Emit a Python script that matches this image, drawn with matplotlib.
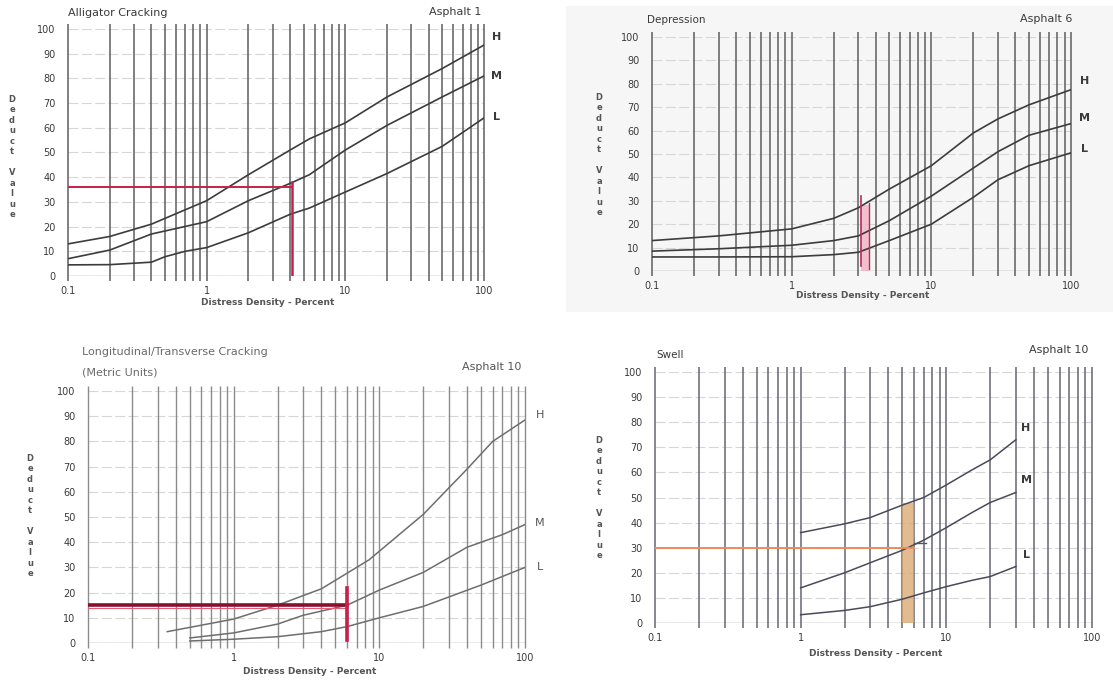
import matplotlib
matplotlib.use("Agg")
import matplotlib.pyplot as plt
from matplotlib.ticker import NullLocator
from matplotlib.patches import Rectangle

W, H = 1113, 684

# ---- Alligator Cracking (Asphalt 1)
alligator_x = [0.1, 0.2, 0.4, 1, 2, 4, 5.5, 10, 20, 50, 100]
alligator_h = [13, 16, 21, 30.5, 41, 51, 55.5, 62, 72.5, 84, 93.5]
alligator_m = [7, 10.5, 17, 22, 30.5, 37.5, 41, 51, 61, 72.5, 81]
alligator_l_x = [0.1, 0.2, 0.4, 0.5, 0.7, 1, 2, 4, 5.5, 10, 20, 50, 100]
alligator_l = [4.5, 4.6, 5.6, 7.8, 10, 11.5, 17.5, 25, 27.5, 34, 41.5, 52.5, 64]
alligator_ref = (4.1, 36, 38)   # density, deduct value, top of vertical

# ---- Depression (Asphalt 6)
depression_x = [0.1, 0.3, 1, 2, 3, 5, 10, 20, 30, 50, 100]
depression_h = [13, 15, 18, 22.5, 27, 35, 45, 59, 65, 71, 77.5]
depression_m = [8.5, 9.5, 11, 13, 15, 21.5, 32, 44, 51, 58, 63]
depression_l = [6, 6, 6.1, 7, 8, 13, 20, 31.5, 39, 45, 50.5]
depression_ref = (3.15, 3.6, 32)  # band from, band to, top

# ---- Longitudinal/Transverse Cracking (Asphalt 10)
long_h_x = [0.35, 1, 2, 4, 8.5, 20, 40, 60, 100]
long_h = [4.5, 9.5, 15, 21.5, 33, 51, 69, 80, 88.5]
long_m_x = [0.5, 1, 2, 3, 6, 10, 20, 40, 70, 100]
long_m = [2, 4, 7.5, 11, 15, 21, 28, 38, 43, 47]
long_l_x = [0.5, 1, 2, 4, 6, 10, 20, 50, 100]
long_l = [0.8, 1.5, 2.5, 4.5, 6.5, 10, 14.5, 23, 30]
long_ref = (6.0, 15, 22)

# ---- Swell (Asphalt 10)
swell_x = [1, 2, 3, 5, 7, 10, 15, 20, 30]
swell_h = [36, 39.5, 42, 47, 50, 55, 61, 65, 73]
swell_m = [14, 20, 24, 29, 33, 38, 44, 48, 52]
swell_l = [3.3, 5, 6.5, 9.5, 12, 14.5, 17, 18.5, 22.5]
swell_ref = (5.0, 6.0, 30, 48)   # band from, band to, deduct value, top

y_ticks = list(range(0, 101, 10))
x_ticks = [0.1, 1, 10, 100]
x_tick_labels = ["0.1", "1", "10", "100"]
grid_x = [m * d for d in (0.1, 1, 10) for m in range(1, 10)] + [100]

TXT = "#3a3a3a"
LINE = "#3c3c3c"
GRID_V = "#5e5e5e"
GRID_H = "#d6d6d6"

fig = plt.figure(figsize=(W / 100, H / 100), dpi=100)
fig.patch.set_facecolor("white")

# faint paper tone behind the upper right chart
fig.add_artist(Rectangle((566 / W, 1 - 312 / H), 547 / W, 306 / H,
                         transform=fig.transFigure, facecolor="#f6f6f6",
                         edgecolor="none", zorder=-5))


def ftext(px, py, s, **kw):
    kw.setdefault("color", TXT)
    kw.setdefault("fontsize", 8)
    fig.text(px / W, 1 - py / H, s, **kw)


def make_axes(left, top, right, bottom, vcolor=GRID_V, vlw=1.1):
    ax = fig.add_axes([left / W, 1 - bottom / H, (right - left) / W, (bottom - top) / H])
    ax.set_xscale("log")
    ax.set_xlim(0.1, 100)
    ax.set_ylim(0, 100)
    ax.patch.set_alpha(0)
    for s in ax.spines.values():
        s.set_visible(False)
    ax.set_yticks(y_ticks)
    ax.set_yticklabels([str(v) for v in y_ticks])
    ax.set_xticks(x_ticks)
    ax.set_xticklabels(x_tick_labels)
    ax.xaxis.set_minor_locator(NullLocator())
    ax.tick_params(axis="both", length=0, labelsize=7, labelcolor=TXT)
    ax.tick_params(axis="y", pad=9)
    ax.tick_params(axis="x", pad=7)
    tr = ax.get_xaxis_transform()
    ax.vlines(grid_x, -0.02, 1.02, transform=tr, colors=vcolor, lw=vlw,
              clip_on=False, zorder=1)
    ax.hlines(y_ticks, 0.1, 100, colors=GRID_H, lw=0.8,
              linestyles=(0, (9, 3)), zorder=0)
    ax.hlines([0], 0.1, 100, colors="#a0a0a0", lw=1.0, zorder=0)
    return ax


def deduct_label(px, py):
    ftext(px, py, "\n".join("Deduct Value"), fontsize=6, ha="center", va="center",
          linespacing=1.22, fontweight="bold", color="#555555")


def xlabel(px, py):
    ftext(px, py, "Distress Density - Percent", fontsize=6.5, ha="center",
          va="center", fontweight="bold", color="#555555")


# ---------------- Alligator Cracking
ax1 = make_axes(68, 29, 484, 276)
ax1.plot(alligator_x, alligator_h, color=LINE, lw=1.2, zorder=3)
ax1.plot(alligator_x, alligator_m, color=LINE, lw=1.2, zorder=3)
ax1.plot(alligator_l_x, alligator_l, color=LINE, lw=1.2, zorder=3)
rx, ry, rtop = alligator_ref
ax1.plot([0.1, rx], [ry, ry], color="#c8204a", lw=1.4, zorder=4)
ax1.plot([rx, rx], [0, rtop], color="#c8204a", lw=1.8, zorder=4)
ftext(68, 13, "Alligator Cracking", va="center")
ftext(481, 12, "Asphalt 1", ha="right", va="center")
for lab, yy in (("H", 37), ("M", 76), ("L", 117)):
    ftext(497, yy, lab, ha="center", va="center", fontweight="bold")
deduct_label(12, 157)
xlabel(268, 303)

# ---------------- Depression
ax2 = make_axes(652, 37, 1071, 271)
ax2.plot(depression_x, depression_h, color=LINE, lw=1.2, zorder=3)
ax2.plot(depression_x, depression_m, color=LINE, lw=1.2, zorder=3)
ax2.plot(depression_x, depression_l, color=LINE, lw=1.2, zorder=3)
b0, b1, btop = depression_ref
ax2.fill_between([b0, b1], 0, btop - 4, color="#f2a8bd", alpha=0.7, zorder=2, lw=0)
ax2.plot([b0, b0], [2, btop], color="#b0305a", lw=1.2, zorder=4)
ax2.plot([b1, b1], [1, btop - 3], color="#b0305a", lw=1.0, zorder=4)
ftext(647, 20, "Depression", va="center", fontsize=7.5)
ftext(1072, 19, "Asphalt 6", ha="right", va="center")
for lab, yy in (("H", 81), ("M", 118), ("L", 149)):
    ftext(1085, yy, lab, ha="center", va="center", fontweight="bold")
deduct_label(599, 155)
xlabel(863, 296)

# ---------------- Longitudinal/Transverse Cracking
ax3 = make_axes(88, 391, 525, 643, vcolor="#8c8c8c", vlw=1.0)
for xs, ys in ((long_h_x, long_h), (long_m_x, long_m), (long_l_x, long_l)):
    ax3.plot(xs, ys, color="#6e6e6e", lw=1.1, zorder=3)
lx, ly, ltop = long_ref
ax3.plot([0.1, lx], [ly, ly], color="#8a0f2c", lw=2.6, zorder=4)
ax3.plot([0.1, lx], [ly - 1.2, ly - 1.2], color="#e0607a", lw=0.8, zorder=4)
ax3.plot([lx, lx], [1, ltop], color="#c8204a", lw=2.6, zorder=4)
ftext(82, 352, "Longitudinal/Transverse Cracking", va="center", color="#6a6a6a")
ftext(82, 373, "(Metric Units)", va="center", color="#6a6a6a")
ftext(521, 367, "Asphalt 10", ha="right", va="center", color="#555555")
for lab, yy in (("H", 415), ("M", 523), ("L", 567)):
    ftext(540, yy, lab, ha="center", va="center", color="#555555")
deduct_label(30, 516)
xlabel(310, 672)

# ---------------- Swell
ax4 = make_axes(655, 372, 1092, 623, vcolor="#666672")
for ys in (swell_h, swell_m, swell_l):
    ax4.plot(swell_x, ys, color="#4a4a5a", lw=1.1, zorder=3)
s0, s1, sy, stop = swell_ref
ax4.fill_between([s0, s1], 0, stop, color="#d9a66a", alpha=0.75, zorder=2, lw=0)
ax4.plot([0.1, s1], [sy, sy], color="#f08a5a", lw=1.4, zorder=4)
ax4.plot([s1, 7.2], [sy + 2, sy + 2], color="#555555", lw=1.0, zorder=4)
ftext(656, 355, "Swell", va="center", fontsize=7.5)
ftext(1088, 350, "Asphalt 10", ha="right", va="center")
for lab, yy in (("H", 428), ("M", 480), ("L", 555)):
    ftext(1026, yy, lab, ha="center", va="center", fontweight="bold")
deduct_label(599, 498)
xlabel(876, 653)

fig.savefig("out.png", dpi=100)
